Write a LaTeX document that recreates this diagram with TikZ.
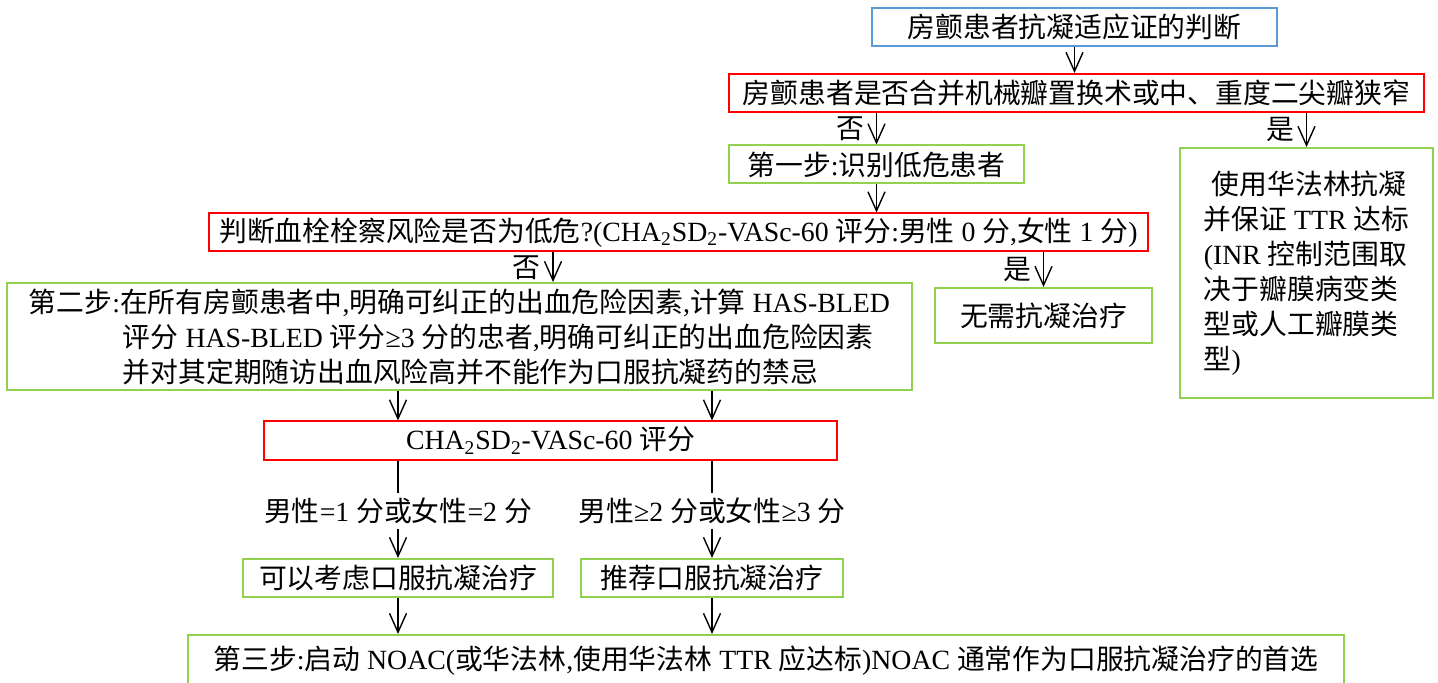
\documentclass[tikz,border=0pt]{standalone}
\usepackage{fontspec}
\setmainfont{Liberation Serif}
\newfontfamily\cjk{Noto Sans CJK SC}
\newcommand\zh[1]{{\cjk #1}}
\usetikzlibrary{arrows.meta,positioning,calc}
\definecolor{boxblue}{HTML}{5B9BD5}
\definecolor{boxred}{HTML}{FF0000}
\definecolor{boxgreen}{HTML}{92D050}

\begin{document}
\begin{tikzpicture}[x=0.5pt, y=-0.5pt, line width=0.7pt,
    >={Straight Barb[length=9.5pt,width=8.5pt]},
    every node/.style={font=\fontsize{13.9}{17.5}\selectfont, inner sep=0pt},
    bluebox/.style={draw=boxblue, line width=1pt, minimum height=19pt},
    redbox/.style={draw=boxred, line width=1pt, minimum height=19pt},
    greenbox/.style={draw=boxgreen, line width=1pt, minimum height=19pt},
    lbl/.style={inner sep=2pt}]
  \useasboundingbox (0,0) rectangle (1438,683);

  \node[bluebox, minimum width=202.5pt] (judge) at (1074.5,27) {\zh{房颤患者抗凝适应证的判断}};
  \node[redbox, minimum width=347.5pt] (valve) at (1076.5,93) {\zh{房颤患者是否合并机械瓣置换术或中、重度二尖瓣狭窄}};
  \node[greenbox, minimum width=147.5pt] (step1) at (876.5,164.5) {\zh{第一步}:\zh{识别低危患者}};
  \node[greenbox, minimum width=126.5pt, minimum height=125pt, align=left] (warfarin) at (1306.5,273)
    {\hspace*{4pt}\zh{使用华法林抗凝}\\\zh{并保证} TTR \zh{达标}\\(INR \zh{控制范围取}\\\zh{决于瓣膜病变类}\\\zh{型或人工瓣膜类}\\\zh{型})};
  \node[redbox, minimum width=469.5pt] (lowrisk) at (678.5,232.5)
    {\zh{判断血栓栓察风险是否为低危}?(CHA\textsubscript{2}SD\textsubscript{2}-VASc-60 \zh{评分}:\zh{男性} 0 \zh{分},\zh{女性} 1 \zh{分})};
  \node[greenbox, minimum width=452.5pt, minimum height=53.5pt, align=left] (step2) at (459.5,336.5)
    {\zh{第二步}:\zh{在所有房颤患者中},\zh{明确可纠正的出血危险因素},\zh{计算} HAS-BLED\\
     \hspace*{47pt}\zh{评分} HAS-BLED \zh{评分}≥3 \zh{分的忠者},\zh{明确可纠正的出血危险因素}\\
     \hspace*{47pt}\zh{并对其定期随访出血风险高并不能作为口服抗凝药的禁忌}};
  \node[greenbox, minimum width=108.5pt, minimum height=27.5pt] (noanti) at (1043.5,315.5) {\zh{无需抗凝治疗}};
  \node[redbox, minimum width=286.5pt] (score) at (550.5,440.5) {CHA\textsubscript{2}SD\textsubscript{2}-VASc-60 \zh{评分}};
  \node[lbl] (male1) at (398,511) {\zh{男性}=1 \zh{分或女性}=2 \zh{分}};
  \node[lbl] (male2) at (712,511) {\zh{男性}≥2 \zh{分或女性}≥3 \zh{分}};
  \node[greenbox, minimum width=155pt] (consider) at (398,578) {\zh{可以考虑口服抗凝治疗}};
  \node[greenbox, minimum width=131pt] (recommend) at (712,578) {\zh{推荐口服抗凝治疗}};
  \node[greenbox, minimum width=578pt, minimum height=26pt] (step3) at (766,661)
    {\zh{第三步}:\zh{启动} NOAC(\zh{或华法林},\zh{使用华法林} TTR \zh{应达标})NOAC \zh{通常作为口服抗凝治疗的首选}};

  \coordinate (noL) at (553,0);

  \draw[->] (judge.south) -- (judge.south |- valve.north);
  \draw[->] (valve.south -| step1) -- node[left=6pt] {\zh{否}} (step1);
  \draw[->] (valve.south -| warfarin) -- node[left=6pt] {\zh{是}} (warfarin);
  \draw[->] (step1) -- (lowrisk.north -| step1);
  \draw[->] (lowrisk.south -| noL) -- node[left=6pt] {\zh{否}} (step2.north -| noL);
  \draw[->] (lowrisk.south -| noanti) -- node[left=6pt] {\zh{是}} (noanti);
  \draw[->] (step2.south -| consider) -- (score.north -| consider);
  \draw[->] (step2.south -| recommend) -- (score.north -| recommend);
  \draw (score.south -| male1) -- (male1);
  \draw[->] (male1) -- (consider);
  \draw (score.south -| male2) -- (male2);
  \draw[->] (male2) -- (recommend);
  \draw[->] (consider) -- (consider |- step3.north);
  \draw[->] (recommend) -- (recommend |- step3.north);
\end{tikzpicture}
\end{document}
